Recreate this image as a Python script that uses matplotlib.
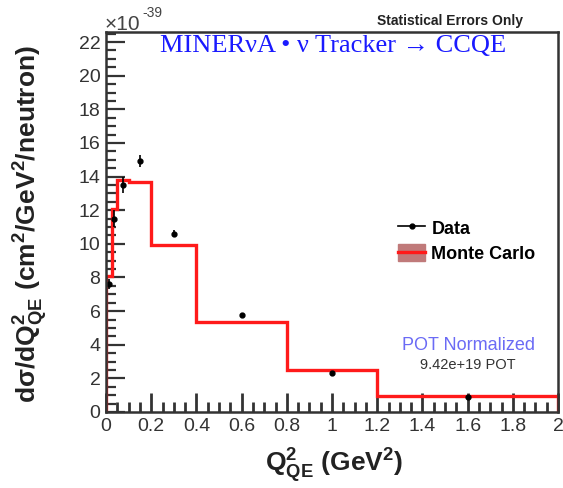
import matplotlib
matplotlib.use("Agg")
import matplotlib.pyplot as plt
import numpy as np
from matplotlib.lines import Line2D
from matplotlib.patches import Patch
from matplotlib.ticker import MultipleLocator

# CCQE cross section vs Q2_QE, in units of 1e-39 cm2/GeV2/neutron
bin_edges = [0.0, 0.025, 0.05, 0.1, 0.2, 0.4, 0.8, 1.2, 2.0]
mc_xsec = [8.1, 12.1, 13.8, 13.65, 9.92, 5.37, 2.48, 0.95]
data_xsec = [7.6, 11.5, 13.5, 14.95, 10.6, 5.77, 2.34, 0.88]
data_err = [0.3, 0.5, 0.5, 0.35, 0.2, 0.1, 0.07, 0.04]

plt.rcParams['font.family'] = ['Liberation Sans', 'DejaVu Sans']
plt.rcParams['mathtext.fontset'] = 'custom'
plt.rcParams['mathtext.rm'] = 'Liberation Sans:bold'
plt.rcParams['mathtext.it'] = 'Liberation Sans:bold'
plt.rcParams['mathtext.bf'] = 'Liberation Sans:bold'
plt.rcParams['mathtext.default'] = 'rm'

W, H = 563, 488
fig = plt.figure(figsize=(W / 100, H / 100), dpi=100)
ax = fig.add_axes([106 / W, 1 - 412 / H, (558 - 106) / W, (412 - 32) / H])

edges = np.array(bin_edges)
centers = 0.5 * (edges[:-1] + edges[1:])

ax.stairs(mc_xsec, edges, baseline=0, color='#ff1a1a', lw=2.4, zorder=3)
ax.errorbar(centers, data_xsec, yerr=data_err, fmt='o', ms=3.5, color='black',
            elinewidth=1.2, capsize=0, zorder=4)

ax.set_xlim(0, 2)
ax.set_ylim(0, 22.6)
ax.xaxis.set_major_locator(MultipleLocator(0.2))
ax.xaxis.set_minor_locator(MultipleLocator(0.05))
ax.yaxis.set_major_locator(MultipleLocator(2))
ax.yaxis.set_minor_locator(MultipleLocator(0.5))
ax.xaxis.set_major_formatter(plt.FuncFormatter(lambda v, p: f"{v:g}"))

# ticks inside, left and bottom only
ax.tick_params(axis='x', which='both', direction='in', color='#333333', width=2,
               labelcolor='#333333', labelsize=14, top=False)
ax.tick_params(axis='y', which='both', direction='in', color='#333333', width=1.6,
               labelcolor='#333333', labelsize=14, right=False)
ax.tick_params(axis='both', which='major', length=14, pad=4)
ax.tick_params(axis='both', which='minor', length=7)
ax.set_axisbelow(False)
for s in ax.spines.values():
    s.set_color('#333333')
    s.set_linewidth(1.8)
    s.set_zorder(5)


def px(x, y):
    return x / W, 1 - y / H


fig.text(*px(333, 46), "MINERνA • ν Tracker → CCQE", color='#1a1aff', fontsize=19,
         family=['Liberation Serif', 'DejaVu Serif'], ha='center', va='center')
fig.text(*px(523, 21), "Statistical Errors Only", fontsize=10, fontweight='bold',
         color='#222222', ha='right', va='center')
fig.text(*px(105, 25), "×10", fontsize=15, color='#444444', ha='left', va='center')
fig.text(*px(142, 13), "-39", fontsize=10, color='#444444', ha='left', va='center')

fig.text(*px(469, 345), "POT Normalized", fontsize=13, color='#6b6bf5',
         ha='center', va='center')
fig.text(*px(468, 365), "9.42e+19 POT", fontsize=10.5, color='#333333',
         ha='center', va='center')

fig.text(*px(334, 466), r"$Q^{2}_{QE}\ (GeV^{2})$", fontsize=19, color='#222222',
         ha='center', va='center')
fig.text(*px(31, 224), r"$d\sigma/dQ^{2}_{QE}\ (cm^{2}/GeV^{2}/neutron)$", fontsize=19,
         color='#222222', ha='center', va='center', rotation=90)

data_handle = Line2D([], [], color='black', marker='o', ms=3.5, lw=1.2)
mc_handle = (Patch(facecolor='#c07a7a', edgecolor='#c07a7a'),
             Line2D([], [], color='#ff1a1a', lw=2.4))
leg = ax.legend([data_handle, mc_handle], ["Data", "Monte Carlo"],
                loc='upper left', bbox_to_anchor=px(389, 210),
                bbox_transform=fig.transFigure, frameon=False, borderpad=0,
                handlelength=1.5, handleheight=1.1, handletextpad=0.35,
                labelspacing=0.35, prop={'weight': 'bold', 'size': 13})

fig.savefig("out.png", dpi=100)
